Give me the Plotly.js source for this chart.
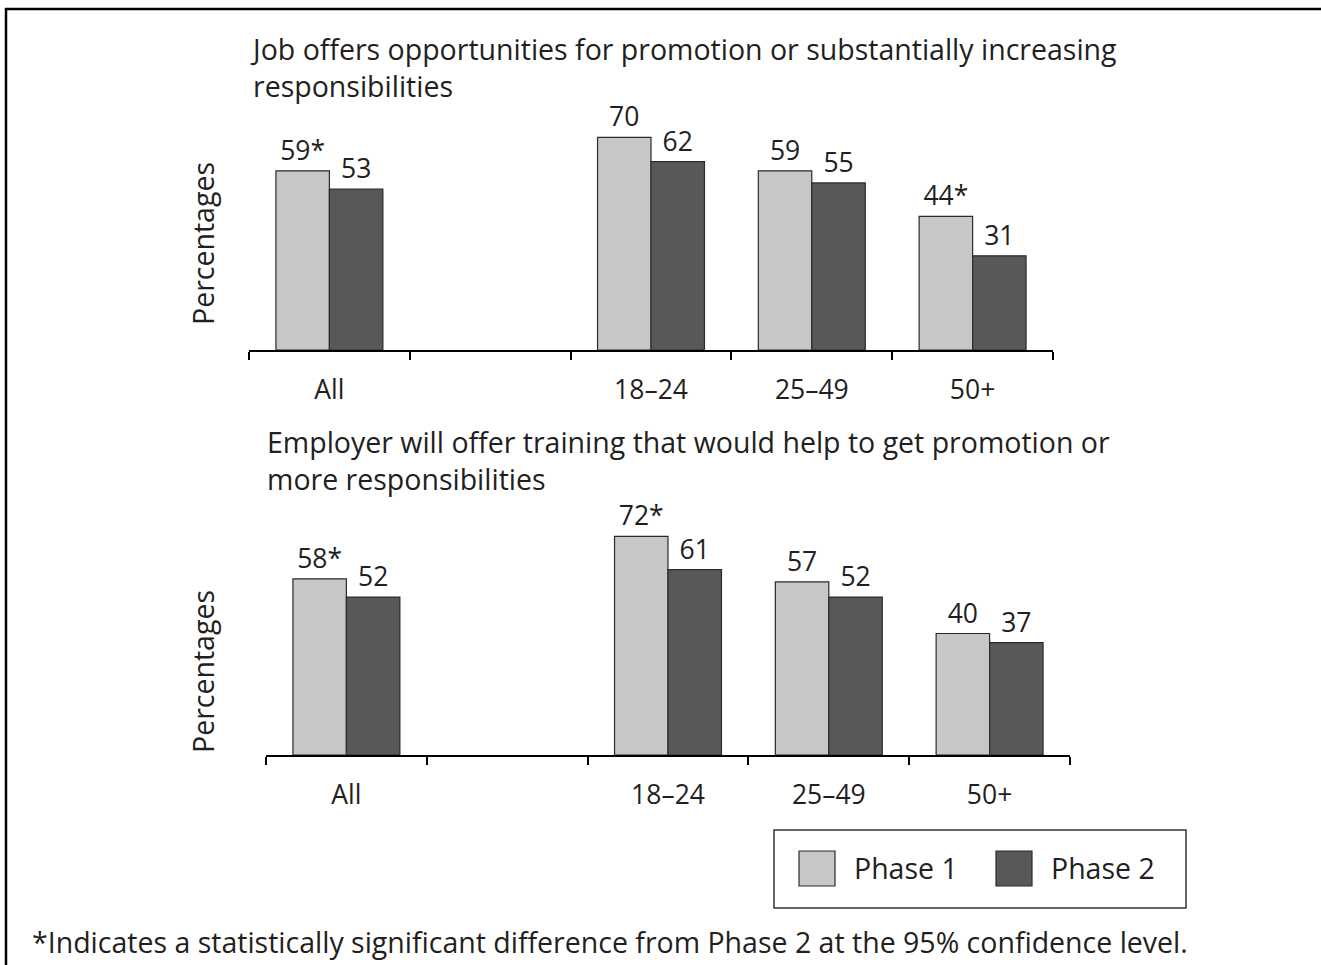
<!DOCTYPE html>
<html>
<head>
<meta charset="utf-8">
<script src="https://cdn.plot.ly/plotly-3.0.1.min.js"></script>
<style>
  html, body { margin: 0; padding: 0; background: #ffffff; }
  #chart { width: 1321px; height: 965px; }
</style>
</head>
<body>
<div id="chart"></div>
<script>
// ---- Data ----
const categories = ["All", " ", "18–24", "25–49", "50+"];
const seriesNames = ["Phase 1", "Phase 2"];

const topTitle = "Job offers opportunities for promotion or substantially increasing<br>responsibilities";
const topPhase1 = [59, null, 70, 59, 44];
const topPhase2 = [53, null, 62, 55, 31];
const topPhase1Sig = [true, false, false, false, true];
const topPhase2Sig = [false, false, false, false, false];

const bottomTitle = "Employer will offer training that would help to get promotion or<br>more responsibilities";
const bottomPhase1 = [58, null, 72, 57, 40];
const bottomPhase2 = [52, null, 61, 52, 37];
const bottomPhase1Sig = [true, false, true, false, false];
const bottomPhase2Sig = [false, false, false, false, false];

const yAxisLabel = "Percentages";
const footnote = "*Indicates a statistically significant difference from Phase 2 at the 95% confidence level.";

// ---- Styling ----
const W = 1321, H = 965;
const FONT = "Open Sans, Noto Sans, sans-serif";
const TXT = "#231f20";
const colors = ["#c6c7c9", "#58585a"];
const FS_TEXT = 28.5;   // titles, legend, footnote, axis titles
const FS_NUM = 26.5;    // bar values and category labels

const px = v => v / W;
const py = v => (H - v) / H;

function labels(vals, sig) {
  return vals.map((v, i) => v === null ? "" : String(v) + (sig[i] ? "*" : ""));
}

function barTrace(vals, sig, idx, xa, ya) {
  return {
    type: "bar",
    name: seriesNames[idx],
    x: categories,
    y: vals,
    xaxis: xa,
    yaxis: ya,
    text: labels(vals, sig),
    texttemplate: "%{text}",
    textposition: "outside",
    constraintext: "none",
    cliponaxis: false,
    textfont: { family: FONT, size: FS_NUM, color: TXT },
    marker: { color: colors[idx], line: { color: "#2b2b2b", width: 1.2 } },
    showlegend: false,
    hoverinfo: "x+y"
  };
}

const data = [
  barTrace(topPhase1, topPhase1Sig, 0, "x", "y"),
  barTrace(topPhase2, topPhase2Sig, 1, "x", "y"),
  barTrace(bottomPhase1, bottomPhase1Sig, 0, "x2", "y2"),
  barTrace(bottomPhase2, bottomPhase2Sig, 1, "x2", "y2")
];

function xAxis(d0, d1, anchor) {
  return {
    domain: [px(d0), px(d1)],
    anchor: anchor,
    type: "category",
    categoryorder: "array",
    categoryarray: categories,
    range: [-0.5, 4.5],
    tickson: "boundaries",
    ticks: "outside",
    ticklen: 8,
    tickwidth: 2,
    tickcolor: "#000",
    showline: true,
    linecolor: "#000",
    linewidth: 2,
    showgrid: false,
    zeroline: false,
    ticklabelstandoff: 15,
    tickfont: { family: FONT, size: FS_NUM, color: TXT },
    fixedrange: true
  };
}

function yAxis(base, top, anchor) {
  return {
    domain: [py(base), py(top)],
    anchor: anchor,
    range: [0, 80],
    showticklabels: false,
    ticks: "",
    showline: false,
    showgrid: false,
    zeroline: false,
    fixedrange: true
  };
}

function textNote(text, x, y, xanchor, yanchor, extra) {
  return Object.assign({
    text: text, xref: "paper", yref: "paper", x: px(x), y: py(y),
    xanchor: xanchor, yanchor: yanchor, align: "left", showarrow: false,
    font: { family: FONT, size: FS_TEXT, color: TXT }
  }, extra || {});
}

const annotations = [
  textNote(topTitle, 248, 67, "left", "middle"),
  textNote(bottomTitle, 265, 461, "left", "middle"),
  textNote(yAxisLabel, 203, 243, "center", "middle", { textangle: -90 }),
  textNote(yAxisLabel, 203, 671, "center", "middle", { textangle: -90 }),
  textNote(footnote, 30, 942, "left", "middle"),
  textNote(seriesNames[0], 852, 868, "left", "middle"),
  textNote(seriesNames[1], 1049, 868, "left", "middle")
];

const shapes = [
  // outer frame (top and left edges visible)
  { type: "rect", xref: "paper", yref: "paper", x0: px(6), x1: px(W + 20), y0: py(H + 20), y1: py(9),
    line: { color: "#000", width: 2.5 }, fillcolor: "rgba(0,0,0,0)" },
  // legend box
  { type: "rect", xref: "paper", yref: "paper", x0: px(774), x1: px(1186), y0: py(908), y1: py(830),
    line: { color: "#333", width: 1.5 }, fillcolor: "rgba(0,0,0,0)" },
  // legend swatches
  { type: "rect", xref: "paper", yref: "paper", x0: px(799), x1: px(835), y0: py(886), y1: py(851),
    line: { color: "#2b2b2b", width: 1.2 }, fillcolor: colors[0] },
  { type: "rect", xref: "paper", yref: "paper", x0: px(996), x1: px(1032), y0: py(886), y1: py(851),
    line: { color: "#2b2b2b", width: 1.2 }, fillcolor: colors[1] }
];

const layout = {
  width: W,
  height: H,
  margin: { l: 0, r: 0, t: 0, b: 0, pad: 0 },
  paper_bgcolor: "#ffffff",
  plot_bgcolor: "rgba(0,0,0,0)",
  font: { family: FONT, size: FS_TEXT, color: TXT },
  barmode: "group",
  bargap: 0.335,
  bargroupgap: 0,
  showlegend: false,
  xaxis: xAxis(249, 1053, "y"),
  yaxis: yAxis(350, 107, "x"),
  xaxis2: xAxis(266, 1070, "y2"),
  yaxis2: yAxis(755, 512, "x2"),
  annotations: annotations,
  shapes: shapes
};

Plotly.newPlot("chart", data, layout, { displayModeBar: false, staticPlot: true });
</script>
</body>
</html>
